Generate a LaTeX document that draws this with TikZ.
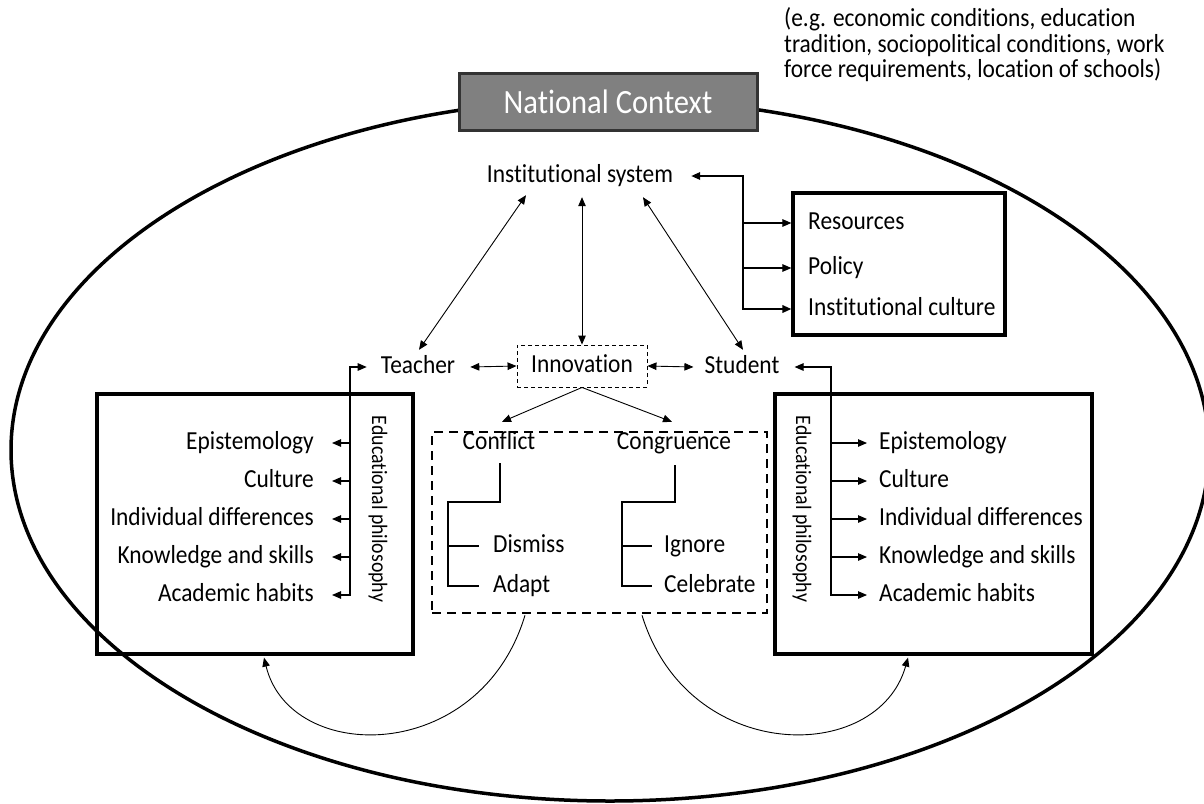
\documentclass[tikz,border=0pt]{standalone}
\usepackage{fontspec}
\setmainfont{Carlito}[FakeStretch=0.9, Ligatures=NoCommon]
\usetikzlibrary{arrows.meta,calc}
\begin{document}
\begin{tikzpicture}[x=1pt,y=-1pt,
  >={Triangle[length=9pt,width=7.5pt]},
  lbl/.style={font=\fontsize{26}{28}\selectfont, inner sep=1pt, text height=18pt, text depth=6pt},
  rlbl/.style={font=\fontsize{22}{24}\selectfont, inner sep=1pt, rotate=-90},
  thickbox/.style={draw, line width=3.2pt, inner sep=0pt},
  natbox/.style={draw=black!80, line width=3pt, fill=black!50, text=white, font=\fontsize{34}{36}\selectfont, minimum width=298pt, minimum height=57pt, inner sep=0pt},
  arr/.style={line width=0.9pt},
  conn/.style={line width=1.8pt},
  br/.style={line width=1.1pt},
]
\useasboundingbox (0,0) rectangle (1204,803);
\clip (0,0) rectangle (1204,803);

% outer national context
\draw[line width=3.5pt] (610,450) ellipse [x radius=599, y radius=351];
\node[natbox] (nat) at (608,101.5) {National Context};

% note
\node[lbl, anchor=base west] (n1) at (783,27) {(e.g. economic conditions, education};
\node[lbl, anchor=base west] (n2) at (783,52) {tradition, sociopolitical conditions, work};
\node[lbl, anchor=base west] (n3) at (783,77) {force requirements, location of schools)};

% core nodes
\node[lbl] (inst) at (580,176) {Institutional system};
\node[lbl] (teacher) at (418,367) {Teacher};
\node[lbl, draw, dash pattern=on 4pt off 3pt, line width=0.9pt, minimum width=130pt, minimum height=42pt] (innov) at (582,366) {Innovation};
\node[lbl] (student) at (742,367) {Student};

% institutional factors box
\node[thickbox, minimum width=212pt, minimum height=142pt] (resbox) at (899,264) {};
\node[lbl, anchor=west] (res) at (807,223) {Resources};
\node[lbl, anchor=west] (pol) at (807,268) {Policy};
\node[lbl, anchor=west] (cult) at (807,309) {Institutional culture};

% teacher / student boxes
\node[thickbox, minimum width=316pt, minimum height=260pt] (lbox) at (255,524) {};
\node[thickbox, minimum width=317pt, minimum height=260pt] (rbox) at (933.5,524) {};
\node[draw, line width=2.5pt, dash pattern=on 9pt off 6pt, minimum width=335pt, minimum height=181pt, inner sep=0pt] (mid) at (599.5,522.5) {};

% left list
\node[lbl, anchor=east] (le1) at (315,443) {Epistemology};
\node[lbl, anchor=east] (le2) at (315,481) {Culture};
\node[lbl, anchor=east] (le3) at (315,519) {Individual differences};
\node[lbl, anchor=east] (le4) at (315,557) {Knowledge and skills};
\node[lbl, anchor=east] (le5) at (315,595) {Academic habits};
\node[rlbl] (lphil) at (378,509) {Educational philosophy};

% right list
\node[lbl, anchor=west] (re1) at (878,443) {Epistemology};
\node[lbl, anchor=west] (re2) at (878,481) {Culture};
\node[lbl, anchor=west] (re3) at (878,519) {Individual differences};
\node[lbl, anchor=west] (re4) at (878,557) {Knowledge and skills};
\node[lbl, anchor=west] (re5) at (878,595) {Academic habits};
\node[rlbl] (rphil) at (802,509) {Educational philosophy};

% conflict / congruence
\node[lbl] (conflict) at (499,443) {Conflict};
\node[lbl] (congr) at (674,443) {Congruence};
\node[lbl, anchor=west] (dismiss) at (492,546) {Dismiss};
\node[lbl, anchor=west] (adapt) at (492,586) {Adapt};
\node[lbl, anchor=west] (ignore) at (663,546) {Ignore};
\node[lbl, anchor=west] (celeb) at (663,586) {Celebrate};

% arrows among core nodes
\draw[arr,<->] ($(inst.south)+(-54,6)$) -- ($(teacher.north)+(1,-4)$);
\draw[arr,<->] ($(inst.south)+(2,8)$) -- (innov.north);
\draw[arr,<->] ($(inst.south)+(63,8)$) -- ($(student.north)+(1,-4)$);
\draw[arr,<->] ($(teacher.east)+(14,0)$) -- (innov.west);
\draw[arr,<->] (innov.east) -- ($(student.west)+(-10,0)$);
\draw[arr,->] (innov.south) -- ($(conflict.north)+(3,-8)$);
\draw[arr,->] (innov.south) -- ($(congr.north)+(-2,-8)$);

% institutional bracket
\coordinate (ib) at ($(inst.east)+(17,0)$);
\coordinate (bx) at (743,0);
\draw[conn,<->] (ib) -- (bx |- ib) |- (resbox.west |- cult);
\draw[br,->] (bx |- res) -- (resbox.west |- res);
\draw[br,->] (bx |- pol) -- (resbox.west |- pol);

% teacher bracket
\coordinate (tl) at ($(teacher.west)+(-13,0)$);
\coordinate (lx) at ($(le5.east)+(35,0)$);
\draw[br,<->] ($(le5.east)+(17,0)$) -- (lx) -- (lx |- tl) -- (tl);
\foreach \n in {le1,le2,le3,le4}
  \draw[br,->] (lx |- \n) -- ($(\n.east)+(17,0)$);

% student bracket
\coordinate (sr) at ($(student.east)+(14,0)$);
\coordinate (rx) at ($(re5.west)+(-47,0)$);
\draw[br,<->] ($(re5.west)+(-11,0)$) -- (rx) -- (rx |- sr) -- (sr);
\foreach \n in {re1,re2,re3,re4}
  \draw[br,->] (rx |- \n) -- ($(\n.west)+(-11,0)$);

% conflict tree
\coordinate (c0) at ($(conflict.south)+(1,7)$);
\coordinate (c1) at (448,502);
\draw[br] (c0) |- (c1) -- (c1 |- adapt) -- ($(adapt.west)+(-13,0)$);
\draw[br] (c1 |- dismiss) -- ($(dismiss.west)+(-13,0)$);

% congruence tree
\coordinate (g0) at ($(congr.south)+(1,9)$);
\coordinate (g1) at (622,502);
\draw[br] (g0) |- (g1) -- (g1 |- celeb) -- ($(celeb.west)+(-11,0)$);
\draw[br] (g1 |- ignore) -- ($(ignore.west)+(-11,0)$);

% feedback curves
\draw[arr,->] ($(mid.south)+(-74.5,1)$) .. controls (480,765) and (290,765) .. ($(lbox.south)+(9,2)$);
\draw[arr,->] ($(mid.south)+(42.5,1)$) .. controls (688,765) and (878,765) .. ($(rbox.south)+(-25.5,2)$);
\end{tikzpicture}
\end{document}
